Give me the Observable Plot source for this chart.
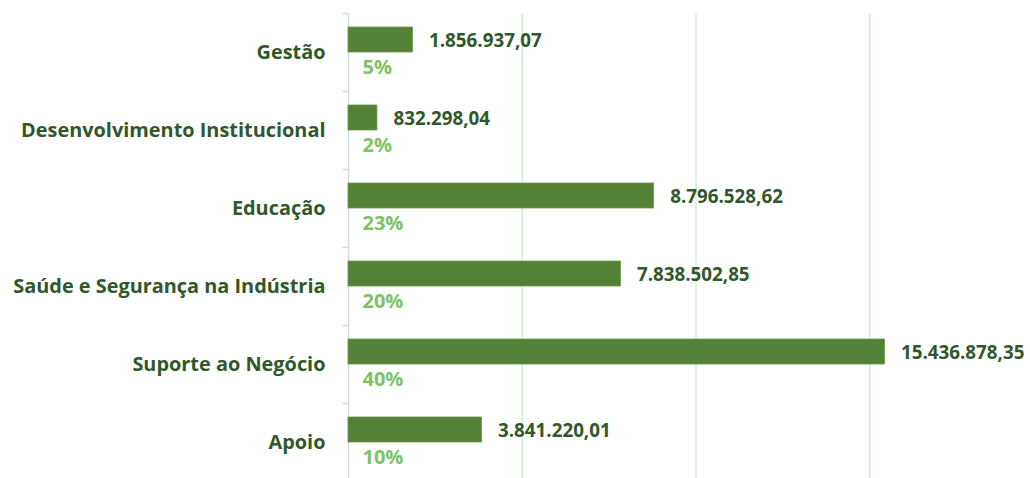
<!DOCTYPE html>
<html>
<head>
<meta charset="utf-8">
<script src="https://cdn.jsdelivr.net/npm/d3@7"></script>
<script src="https://cdn.jsdelivr.net/npm/@observablehq/plot@0.6"></script>
<style>
  html, body { margin: 0; padding: 0; background: #fff; }
  #chart svg { font-family: "Open Sans", Lato, sans-serif; }
</style>
</head>
<body>
<div id="chart"></div>
<script>
const categories = ["Gestão", "Desenvolvimento Institucional", "Educação", "Saúde e Segurança na Indústria", "Suporte ao Negócio", "Apoio"];
const values = [1856937.07, 832298.04, 8796528.62, 7838502.85, 15436878.35, 3841220.01];
const percents = ["5%", "2%", "23%", "20%", "40%", "10%"];
const gridTicks = [5e6, 10e6, 15e6];

const data = categories.map((c, i) => ({category: c, value: values[i], pct: percents[i]}));
const br = d3.formatLocale({decimal: ",", thousands: ".", grouping: [3], currency: ["R$", ""]}).format(",.2f");

const chart = Plot.plot({
  width: 1030,
  height: 478,
  marginLeft: 348,
  marginRight: 0,
  marginTop: 13,
  marginBottom: 0,
  x: {domain: [0, 20e6], range: [348, 1043], axis: null},
  y: {domain: categories, range: [13, 481], padding: 0, label: null, tickSize: 0, tickPadding: 23},
  style: {background: "#fff", overflow: "hidden"},
  marks: [
    Plot.ruleX(gridTicks, {stroke: "#d9ecd4", strokeWidth: 1.5}),
    Plot.ruleX([0], {stroke: "#d6dce4", strokeWidth: 1.5}),
    Plot.ruleY(categories, {y: d => d, x1: 0, x2: 0, insetLeft: -6, dy: -39, stroke: "#d6dce4", strokeWidth: 1.5}),
    Plot.barX(data, {y: "category", x: "value", fill: "#538135", stroke: "#6c9a52", strokeWidth: 0.8, insetTop: 14, insetBottom: 39}),
    Plot.text(data, {y: "category", x: "value", text: d => br(d.value), dx: 16, dy: -12, textAnchor: "start", fill: "#30582a", fontWeight: "bold", fontSize: 18.8}),
    Plot.text(data, {y: "category", x: 0, text: "pct", dx: 14, dy: 15.5, textAnchor: "start", fill: "#7cc466", fontWeight: "bold", fontSize: 20}),
    Plot.axisY({tickSize: 0, tickPadding: 23, fontSize: 19.9, fontWeight: "bold", fill: "#30582a", label: null})
  ]
});
document.getElementById("chart").appendChild(chart);
</script>
</body>
</html>
